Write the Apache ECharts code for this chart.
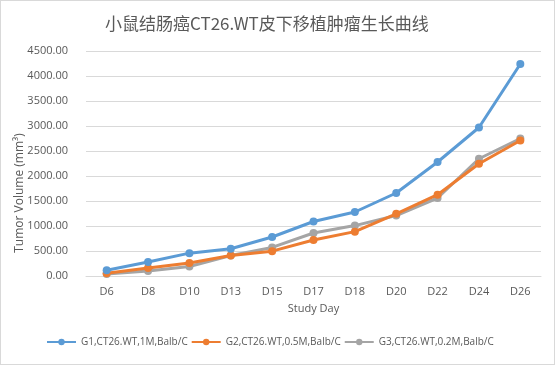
<!DOCTYPE html>
<html><head><meta charset="utf-8">
<script src="https://cdn.jsdelivr.net/npm/echarts@6/dist/echarts.min.js"></script>
<style>html,body{margin:0;padding:0;background:#fff;}#c{width:553px;height:363px;border:1px solid #d9d9d9;}</style>
</head><body><div id="c"></div>
<script>
var categories = ['D6','D8','D10','D13','D15','D17','D18','D20','D22','D24','D26'];
var g1 = [115, 280, 457, 545, 780, 1090, 1280, 1660, 2280, 2970, 4240];
var g2 = [55, 160, 262, 410, 497, 720, 887, 1243, 1626, 2245, 2710];
var g3 = [40, 100, 190, 410, 571, 860, 1008, 1210, 1560, 2345, 2750];
var seriesNames = ['G1,CT26.WT,1M,Balb/C','G2,CT26.WT,0.5M,Balb/C','G3,CT26.WT,0.2M,Balb/C'];
var yTitle = 'Tumor Volume (mm³)';
var colors = ['#5B9BD5','#ED7D31','#A5A5A5'];
var font = '"Open Sans","Noto Sans CJK SC",sans-serif';
var chart = echarts.init(document.getElementById('c'));
function mk(name, data, i){
  return {name:name, type:'line', data:data, symbol:'circle', symbolSize:8,
    lineStyle:{width:3,color:colors[i]}, itemStyle:{color:colors[i]}, z: 3-i};
}
chart.setOption({
  animation:false,
  textStyle:{fontFamily:font},
  title:{text:'小鼠结肠癌CT26.WT皮下移植肿瘤生长曲线', left:99, top:9,
    textStyle:{fontSize:17, fontWeight:'normal', color:'#595959', fontFamily:'"Noto Sans CJK SC",sans-serif'}},
  grid:{left:85, right:13, top:50, bottom:88},
  legend:{bottom:12, left:40, itemWidth:29, itemHeight:8, itemGap:3,
    textStyle:{fontSize:10, color:'#595959'}, data:seriesNames},
  graphic:[{type:'text', x:19, y:192, rotation:Math.PI/2,
    style:{text:yTitle, fontSize:12, fill:'#595959', fontFamily:font, align:'center', verticalAlign:'middle'}}],
  xAxis:{type:'category', data:categories, boundaryGap:true,
    name:'Study Day', nameLocation:'middle', nameGap:27,
    nameTextStyle:{fontSize:11, color:'#595959'},
    axisLine:{lineStyle:{color:'#d9d9d9'}}, axisTick:{show:false},
    axisLabel:{fontSize:11, color:'#595959', margin:10}},
  yAxis:{type:'value', min:0, max:4500, interval:500,
    axisLine:{show:false}, axisTick:{show:false},
    axisLabel:{fontSize:11, color:'#595959', margin:18, formatter:function(v){return v.toFixed(2);}},
    splitLine:{lineStyle:{color:'#d9d9d9'}}},
  series:[mk(seriesNames[0],g1,0), mk(seriesNames[1],g2,1), mk(seriesNames[2],g3,2)]
});
</script></body></html>
